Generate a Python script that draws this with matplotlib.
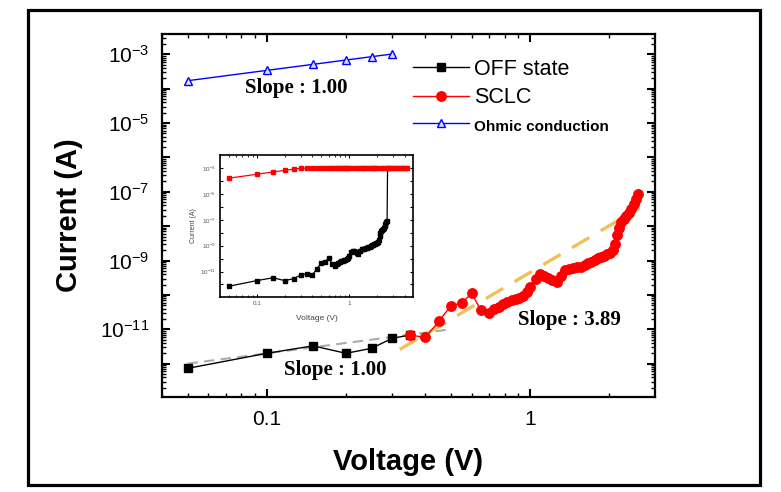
import matplotlib
matplotlib.use("Agg")
import matplotlib.pyplot as plt
from matplotlib.patches import Rectangle
from matplotlib.ticker import LogLocator, NullFormatter

plt.rcParams['font.family'] = 'Liberation Sans'
plt.rcParams['mathtext.fontset'] = 'custom'
plt.rcParams['mathtext.rm'] = 'Liberation Sans'
plt.rcParams['mathtext.default'] = 'regular'

# OFF state (black squares), V and I
off_v = [0.05, 0.10, 0.15, 0.20, 0.25, 0.30, 0.35]
off_i = [7.3e-13, 2.0e-12, 3.3e-12, 2.0e-12, 2.8e-12, 5.5e-12, 6.8e-12]

# SCLC region (red circles)
sclc_v = [0.35, 0.40, 0.45, 0.50, 0.55, 0.60, 0.65, 0.70, 0.73, 0.76, 0.79,
          0.82, 0.85, 0.88, 0.91, 0.94, 0.97, 1.00, 1.05, 1.09, 1.13, 1.17,
          1.21, 1.26, 1.31, 1.36, 1.41, 1.46, 1.51, 1.56, 1.61, 1.66, 1.71,
          1.76, 1.81, 1.86, 1.91, 1.96, 2.01, 2.06, 2.10, 2.14, 2.18, 2.22,
          2.27, 2.32, 2.37, 2.42, 2.47, 2.52, 2.57]
sclc_i = [6.8e-12, 5.8e-12, 1.7e-11, 4.8e-11, 5.9e-11, 1.1e-10, 3.6e-11,
          2.9e-11, 3.8e-11, 4.6e-11, 5.3e-11, 6.3e-11, 6.9e-11, 7.6e-11,
          8.4e-11, 9.5e-11, 1.2e-10, 1.7e-10, 3.0e-10, 4.0e-10, 3.6e-10,
          3.1e-10, 2.7e-10, 2.4e-10, 3.6e-10, 5.3e-10, 5.6e-10, 6.0e-10,
          6.4e-10, 6.6e-10, 7.4e-10, 8.3e-10, 9.2e-10, 1.05e-9, 1.18e-9,
          1.3e-9, 1.4e-9, 1.5e-9, 1.65e-9, 2.0e-9, 3.0e-9, 5.5e-9, 9.0e-9,
          1.3e-8, 1.6e-8, 2.0e-8, 2.4e-8, 3.2e-8, 4.5e-8, 6.3e-8, 8.5e-8]

# Ohmic conduction (blue triangles)
ohm_v = [0.05, 0.10, 0.15, 0.20, 0.25, 0.30]
ohm_i = [1.7e-4, 3.4e-4, 5.1e-4, 6.8e-4, 8.5e-4, 1.02e-3]

# dashed fit lines (end points)
fit_off_v = [0.05, 0.50]
fit_off_i = [1.0e-12, 1.0e-11]
fit_sclc_v = [0.32, 2.60]
fit_sclc_i = [2.6e-12, 3.4e-8]

# inset: ON state sweep (red) up to compliance
on_v = [0.05, 0.10, 0.15, 0.20, 0.25, 0.30, 0.35, 0.40, 0.45, 0.50, 0.55,
        0.60, 0.65, 0.70, 0.75, 0.80, 0.85, 0.90, 0.95, 1.0, 1.1, 1.2, 1.3,
        1.4, 1.5, 1.6, 1.7, 1.8, 1.9, 2.0, 2.2, 2.4, 2.6, 2.8, 3.0, 3.2,
        3.4, 3.6, 3.8, 4.0, 4.2]
on_i = [1.7e-4, 3.4e-4, 5.1e-4, 6.8e-4, 8.5e-4] + [1.0e-3] * 36
jump_v = 2.60
compliance = 1.0e-3

y_exps = [-12, -11, -10, -9, -8, -7, -6, -5, -4, -3]
y_label_exps = [-11, -9, -7, -5, -3]

fig = plt.figure(figsize=(7.81, 4.92), dpi=100)
fig.patches.append(Rectangle((28 / 781, 1 - 485 / 492), 732 / 781, 475 / 492,
                             transform=fig.transFigure, fill=False,
                             lw=2.3, ec='black'))

ax = fig.add_axes([0.2074, 0.193, 0.6313, 0.738])
ax.plot(fit_off_v, fit_off_i, ls=(0, (5, 3)), color='#a4b29c', lw=1.5, zorder=1)
ax.plot(fit_sclc_v, fit_sclc_i, ls=(0, (6, 4)), color='#f2c05a', lw=2.4, zorder=1)
ax.plot(off_v, off_i, '-s', color='black', ms=6, lw=1, label='OFF state', zorder=3)
ax.plot(sclc_v, sclc_i, '-o', color='red', ms=6.8, lw=1, label='SCLC', zorder=4)
ax.plot(ohm_v, ohm_i, '-^', color='blue', mfc='#d8e0ff', mec='blue', ms=6,
        lw=1, label='Ohmic conduction', zorder=3)

ax.set_xscale('log')
ax.set_yscale('log')
ax.set_xlim(0.04, 2.98)
ax.set_ylim(1.07e-13, 3.9e-3)

ax.set_xticks([0.1, 1])
ax.set_xticklabels(['0.1', '1'])
ax.xaxis.set_minor_locator(LogLocator(base=10, subs=range(2, 10), numticks=20))
ax.xaxis.set_minor_formatter(NullFormatter())
ax.set_yticks([10.0 ** e for e in y_exps])
ax.set_yticklabels(['$10^{%d}$' % e if e in y_label_exps else '' for e in y_exps])
ax.yaxis.set_minor_locator(LogLocator(base=10, subs=range(2, 10), numticks=30))
ax.yaxis.set_minor_formatter(NullFormatter())
ax.tick_params(which='both', direction='in', top=True, right=True)
ax.tick_params(which='major', length=6, width=1.5, labelsize=15, pad=9)
ax.tick_params(which='minor', length=3, width=1)
for s in ax.spines.values():
    s.set_linewidth(1.6)

ax.set_xlabel('Voltage (V)', fontsize=21, fontweight='bold', labelpad=14)
ax.set_ylabel('Current (A)', fontsize=21, fontweight='bold', labelpad=12)

leg = ax.legend(loc='upper left', bbox_to_anchor=(0.47, 0.985), frameon=False,
                handlelength=2.6, handletextpad=0.25, labelspacing=0.35,
                fontsize=15.5)
leg.get_texts()[2].set_fontsize(11)
leg.get_texts()[2].set_fontweight('bold')

slope_font = dict(family='Liberation Serif', fontweight='bold', fontsize=15,
                  ha='center', va='center', transform=ax.transAxes)
ax.text(0.273, 0.851, 'Slope : 1.00', **slope_font)
ax.text(0.351, 0.074, 'Slope : 1.00', **slope_font)
ax.text(0.826, 0.212, 'Slope : 3.89', **slope_font)

# inset
ax2 = fig.add_axes([0.2817, 0.3963, 0.2471, 0.2886])
sweep_v = off_v[:-1] + sclc_v + [jump_v]
sweep_i = off_i[:-1] + sclc_i + [compliance]
ax2.plot(sweep_v, sweep_i, '-s', color='black', ms=2.2, lw=0.9)
ax2.plot(on_v, on_i, '-s', color='red', ms=2.6, lw=0.9)
ax2.set_xscale('log')
ax2.set_yscale('log')
ax2.set_xlim(0.04, 4.9)
ax2.set_ylim(1.07e-13, 1.05e-2)
ax2.set_xticks([0.1, 1])
ax2.set_xticklabels(['0.1', '1'])
ax2.xaxis.set_minor_locator(LogLocator(base=10, subs=range(2, 10), numticks=20))
ax2.xaxis.set_minor_formatter(NullFormatter())
ax2.set_yticks([10.0 ** e for e in y_exps])
ax2.set_yticklabels(['$10^{%d}$' % e if e in y_label_exps else '' for e in y_exps])
ax2.yaxis.set_minor_locator(LogLocator(base=10, subs=[], numticks=1))
ax2.tick_params(which='both', direction='in', top=True, right=True,
                labelsize=4.5, labelcolor='#555555', pad=3)
ax2.tick_params(which='major', length=2.5, width=0.8)
ax2.tick_params(which='minor', length=1.2, width=0.6)
for s in ax2.spines.values():
    s.set_linewidth(1.2)
ax2.set_xlabel('Voltage (V)', fontsize=6, color='#444444', labelpad=6)
ax2.set_ylabel('Current (A)', fontsize=5, color='#444444', labelpad=2)

fig.savefig('out.png', dpi=100)
